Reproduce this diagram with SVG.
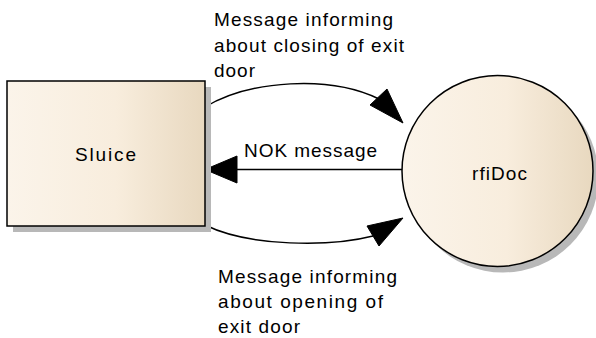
<svg xmlns="http://www.w3.org/2000/svg" width="596" height="338" viewBox="0 0 596 338">
  <defs>
    <linearGradient id="fillGrad" x1="0" y1="0" x2="1" y2="0">
      <stop offset="0" stop-color="#fbf4ea"/>
      <stop offset="0.55" stop-color="#f8eddd"/>
      <stop offset="1" stop-color="#e8d8bf"/>
    </linearGradient>
    <filter id="soft" x="-10%" y="-10%" width="130%" height="130%">
      <feGaussianBlur stdDeviation="0.6"/>
    </filter>
  </defs>
  <style>
    .shadow { fill: #b8b8b8; filter: url(#soft); }
    .body { fill: url(#fillGrad); stroke: #000; stroke-width: 1.5; }
    .label { font-family: "Liberation Sans", Arial, sans-serif; font-size: 19px; fill: #000; }
    .wire { fill: none; stroke: #000; stroke-width: 1.4; }
    .head { fill: #000; stroke: #000; stroke-width: 1; stroke-linejoin: miter; }
  </style>

  <rect width="596" height="338" fill="#fff"/>

  <!-- Connectors -->
  <g id="connectors">
    <!-- Sluice -> rfiDoc: exit door closing -->
    <path class="wire" d="M205,107 C250,80 330,75 379,99"/>
    <polygon class="head" points="403,123 387,89 370,105"/>
    <!-- rfiDoc -> Sluice: NOK -->
    <path class="wire" d="M402,169.5 L236,169.5"/>
    <polygon class="head" points="205,169.5 237,156 237,183"/>
    <!-- Sluice -> rfiDoc: exit door opening -->
    <path class="wire" d="M205,225 C250,247 330,247 373,236"/>
    <polygon class="head" points="403,218 367,226 379,246"/>

    <text class="label" x="214" y="26" textLength="179" lengthAdjust="spacing">Message informing</text>
    <text class="label" x="214" y="52" textLength="190" lengthAdjust="spacing">about closing of exit</text>
    <text class="label" x="214" y="77" textLength="41" lengthAdjust="spacing">door</text>

    <text class="label" x="244" y="157" textLength="133" lengthAdjust="spacing">NOK message</text>

    <text class="label" x="218" y="283" textLength="179" lengthAdjust="spacing">Message informing</text>
    <text class="label" x="218" y="308" textLength="165" lengthAdjust="spacing">about opening of</text>
    <text class="label" x="218" y="333" textLength="82" lengthAdjust="spacing">exit door</text>
  </g>

  <!-- Sluice -->
  <g id="sluice">
    <rect class="shadow" x="13" y="87" width="198" height="145"/>
    <rect class="body" x="7" y="81" width="198" height="145"/>
    <text class="label" x="75" y="161" textLength="61" lengthAdjust="spacing">Sluice</text>
  </g>

  <!-- rfiDoc -->
  <g id="rfiDoc">
    <circle class="shadow" cx="503" cy="177" r="95.5"/>
    <circle class="body" cx="497.5" cy="171" r="95.5"/>
    <text class="label" x="472" y="180" textLength="55" lengthAdjust="spacing">rfiDoc</text>
  </g>
</svg>
